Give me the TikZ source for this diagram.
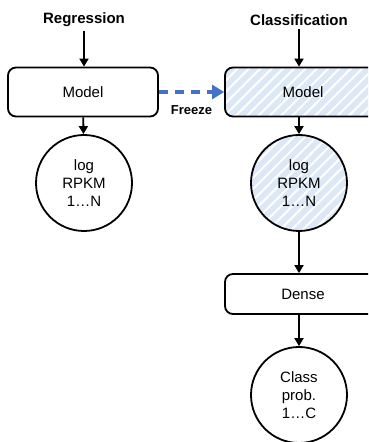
\documentclass[tikz,border=0pt]{standalone}
\usepackage{fontspec}
\setmainfont{Liberation Sans}
\usetikzlibrary{arrows.meta,patterns.meta}
\definecolor{frzblue}{HTML}{4472C4}
\definecolor{hatchblue}{HTML}{DCE8F5}
\begin{document}
\begin{tikzpicture}[x=1pt, y=1pt,
    box/.style={draw, line width=1.8pt, rounded corners=8pt, minimum width=150pt, font=\fontsize{15}{18}\selectfont},
    outcircle/.style={draw, circle, line width=1.8pt, minimum size=96pt, align=center, font=\fontsize{15}{18}\selectfont},
    frozen/.style={preaction={fill=hatchblue}, preaction={pattern={Lines[angle=45, distance=8pt, line width=2pt]}, pattern color=white}},
    title/.style={font=\bfseries\fontsize{15}{18}\selectfont},
    flow/.style={line width=1.8pt, -{Triangle[length=8pt, width=9pt]}}]
    \useasboundingbox (0,0) rectangle (368,442);
    \clip (0,0) rectangle (368,442);

    % Titles
    \node[title] (reg) at (84,422) {Regression};
    \node[title] (cls) at (299,422) {Classification};

    % Regression branch
    \node[box, minimum height=49pt] (model1) at (83,350) {Model};
    \node[outcircle] (rpkm1) at (84,259) {log\\RPKM\\1\dots N};

    % Classification branch
    \node[box, frozen, minimum width=156pt, minimum height=49pt] (model2) at (303,350) {Model};
    \node[outcircle, frozen] (rpkm2) at (299,259) {log\\RPKM\\1\dots N};
    \node[box, minimum width=156pt, minimum height=40pt] (dense) at (303,148) {Dense};
    \node[outcircle] (prob) at (299,47) {Class\\prob.\\1\dots C};

    % Arrows
    \draw[flow] (reg) -- (reg |- model1.north);
    \draw[flow] (model1) -- (rpkm1);
    \draw[flow] (cls) -- (cls |- model2.north);
    \draw[flow] (rpkm2 |- model2.south) -- (rpkm2);
    \draw[flow] (rpkm2) -- (rpkm2 |- dense.north);
    \draw[flow] (prob |- dense.south) -- (prob);

    % Freeze
    \draw[frzblue, line width=4pt, dash pattern=on 9pt off 7pt, -{Triangle[length=12pt, width=14pt]}] (model1) -- (model2)
        node[pos=0.5, below=8pt, black, font=\bfseries\fontsize{13}{15}\selectfont] (frz) {Freeze};
\end{tikzpicture}
\end{document}
